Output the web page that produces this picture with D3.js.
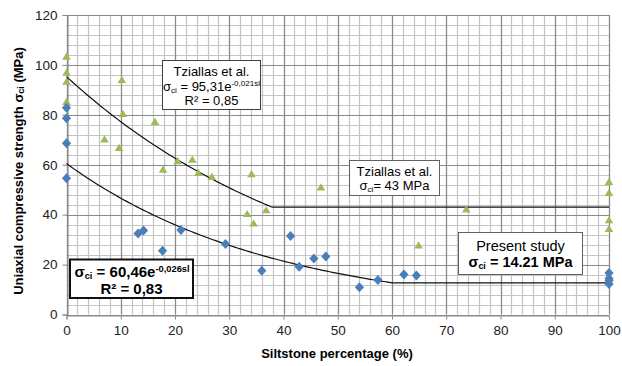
<!DOCTYPE html>
<html lang="en">
<head>
<meta charset="UTF-8">
<style>
  body { margin: 0; background: #fff; }
  text { font-family: Arial, "Liberation Sans", sans-serif; }
</style>
</head>
<body>
<script src="https://d3js.org/d3.v7.min.js"></script>
<script>
// present study (blue diamonds): [siltstone %, UCS MPa]
var presentData = [
  [0, 82.8], [0, 78.6], [0, 68.6], [0, 54.6],
  [13.2, 32.5], [14.2, 33.7], [17.7, 25.5], [21.1, 33.9],
  [29.3, 28.2], [36.0, 17.5], [41.3, 31.5], [42.9, 19.1],
  [45.6, 22.4], [47.8, 23.2], [54.0, 10.9], [57.4, 13.8],
  [62.2, 16.0], [64.5, 15.6],
  [100, 16.6], [100, 14.4], [100, 13.6], [100, 12.2]
]
// Tziallas et al. (green triangles)
var tziallasData = [
  [0, 103.4], [0, 96.9], [0, 93.3], [0, 85.2],
  [7.0, 70.2], [9.7, 66.8], [10.2, 94.0], [10.4, 80.4],
  [16.3, 77.2], [17.8, 58.1], [20.5, 61.5], [23.2, 62.1],
  [24.3, 56.8], [26.8, 55.2], [33.3, 40.3], [34.1, 56.3],
  [34.5, 36.5], [36.8, 41.8], [46.9, 51.0], [64.9, 27.7],
  [73.7, 42.2],
  [100, 53.2], [100, 48.8], [100, 37.8], [100, 34.3]
]
// fitted trend lines: a*exp(b*x) until the limit, then flat
var tziallasFit = {a: 95.31, b: -0.021, flat: 43}
var presentFit = {a: 60.46, b: -0.026, breakX: 60}

var xTicks = d3.range(0, 101, 10)
var yTicks = d3.range(0, 121, 20)

var W = 622, H = 366
var svg = d3.select('body').append('svg').attr('width', W).attr('height', H)

var x = d3.scaleLinear().domain([0, 100]).range([66.5, 609])
var y = d3.scaleLinear().domain([0, 120]).range([314.5, 15])

// grid
var grid = svg.append('g')
grid.selectAll('.vmin').data(d3.range(0, 101, 2)).enter().append('line')
  .attr('x1', d => Math.round(x(d)) + 0.5).attr('x2', d => Math.round(x(d)) + 0.5)
  .attr('y1', y(120)).attr('y2', y(0))
  .attr('stroke', '#c4c4c4').attr('stroke-width', 1.2)
grid.selectAll('.hmin').data(d3.range(0, 121, 4)).enter().append('line')
  .attr('y1', d => Math.round(y(d)) + 0.5).attr('y2', d => Math.round(y(d)) + 0.5)
  .attr('x1', x(0)).attr('x2', x(100))
  .attr('stroke', '#c4c4c4').attr('stroke-width', 1.2)
grid.selectAll('.vmaj').data(xTicks).enter().append('line')
  .attr('x1', d => Math.round(x(d)) + 0.5).attr('x2', d => Math.round(x(d)) + 0.5)
  .attr('y1', y(120)).attr('y2', y(0))
  .attr('stroke', '#8a8a8a').attr('stroke-width', 1.2)
grid.selectAll('.hmaj').data(yTicks).enter().append('line')
  .attr('y1', d => Math.round(y(d)) + 0.5).attr('y2', d => Math.round(y(d)) + 0.5)
  .attr('x1', x(0)).attr('x2', x(100))
  .attr('stroke', '#8a8a8a').attr('stroke-width', 1.2)

// axes
var xAxis = svg.append('g').attr('transform', 'translate(0,' + (Math.round(y(0)) + 0.5) + ')')
  .call(d3.axisBottom(x).tickValues(xTicks).tickSize(4).tickPadding(6))
var yAxis = svg.append('g').attr('transform', 'translate(' + (Math.round(x(0)) + 0.5) + ',0)')
  .call(d3.axisLeft(y).tickValues(yTicks).tickSize(5).tickPadding(5))
svg.selectAll('.domain').attr('stroke', '#8a8a8a')
svg.selectAll('.tick line').attr('stroke', '#8a8a8a')
svg.selectAll('.tick text').attr('font-size', 13.5).attr('fill', '#222')
  .attr('font-family', 'Arial, "Liberation Sans", sans-serif')

// trend lines
var line = d3.line().x(d => x(d[0])).y(d => y(d[1]))
var tBreak = Math.log(tziallasFit.flat / tziallasFit.a) / tziallasFit.b
var tLine = d3.range(0, tBreak, 0.5).map(v => [v, tziallasFit.a * Math.exp(tziallasFit.b * v)])
tLine.push([tBreak, tziallasFit.flat], [100, tziallasFit.flat])
var pFlat = presentFit.a * Math.exp(presentFit.b * presentFit.breakX)
var pLine = d3.range(0, presentFit.breakX, 0.5).map(v => [v, presentFit.a * Math.exp(presentFit.b * v)])
pLine.push([presentFit.breakX, pFlat], [100, pFlat])
;[tLine, pLine].forEach(function (pts) {
  svg.append('path').attr('d', line(pts)).attr('fill', 'none')
    .attr('stroke', '#111').attr('stroke-width', 1.2)
})

// markers
svg.selectAll('.tri').data(tziallasData).enter().append('path')
  .attr('d', 'M0,-4L4.3,3.2L-4.3,3.2Z')
  .attr('transform', d => 'translate(' + x(d[0]) + ',' + y(d[1]) + ')')
  .attr('fill', '#9bbb59')
svg.selectAll('.dia').data(presentData).enter().append('path')
  .attr('d', 'M0,-5L4.6,0L0,5L-4.6,0Z')
  .attr('transform', d => 'translate(' + x(d[0]) + ',' + y(d[1]) + ')')
  .attr('fill', '#4a7ebb')

// text boxes
function box(x0, y0, w, h, stroke, sw) {
  svg.append('rect').attr('x', x0).attr('y', y0).attr('width', w).attr('height', h)
    .attr('fill', '#fff').attr('stroke', stroke).attr('stroke-width', sw)
}
function sigmaLine(cx, cy, size, bold, rest, sup) {
  var t = svg.append('text').attr('x', cx).attr('y', cy).attr('text-anchor', 'middle')
    .attr('font-size', size).attr('font-weight', bold ? 'bold' : 'normal')
  t.append('tspan').text('σ')
  t.append('tspan').text('ci').attr('font-size', size * 0.62).attr('dy', 2)
  t.append('tspan').text(rest).attr('dy', -2)
  if (sup) t.append('tspan').text(sup).attr('font-size', size * 0.62).attr('dy', -5)
  return t
}
function plain(cx, cy, size, bold, s) {
  svg.append('text').attr('x', cx).attr('y', cy).attr('text-anchor', 'middle')
    .attr('font-size', size).attr('font-weight', bold ? 'bold' : 'normal').text(s)
}

box(162.5, 60.5, 98, 49, '#404040', 1)
plain(211.5, 76, 13, false, 'Tziallas et al.')
sigmaLine(211.5, 91, 13, false, ' = 95,31e', '-0,021sl')
plain(211.5, 105, 13, false, 'R² = 0,85')

box(349.5, 160.5, 90, 35, '#606060', 1)
plain(394.5, 176, 13, false, 'Tziallas et al.')
sigmaLine(394.5, 190, 13, false, '= 43 MPa')

box(458.5, 232.5, 124, 42, '#606060', 1)
plain(520.5, 251, 14.5, false, 'Present study')
sigmaLine(520.5, 267, 14.5, true, ' = 14.21  MPa')

box(70, 259.5, 123, 38.5, '#111', 2)
sigmaLine(132, 277, 15, true, ' = 60,46e', '-0,026sl')
plain(131.5, 293.5, 15, true, 'R² = 0,83')

// axis titles
svg.append('text').attr('x', 337).attr('y', 358).attr('text-anchor', 'middle')
  .attr('font-size', 13).attr('font-weight', 'bold').text('Siltstone percentage (%)')
var yt = svg.append('text').attr('transform', 'translate(23,171) rotate(-90)')
  .attr('text-anchor', 'middle').attr('font-size', 13).attr('font-weight', 'bold')
yt.append('tspan').text('Uniaxial compressive strength σ')
yt.append('tspan').text('ci').attr('font-size', 9).attr('dy', 1)
yt.append('tspan').text(' (MPa)').attr('dy', -1)
</script>
</body>
</html>
